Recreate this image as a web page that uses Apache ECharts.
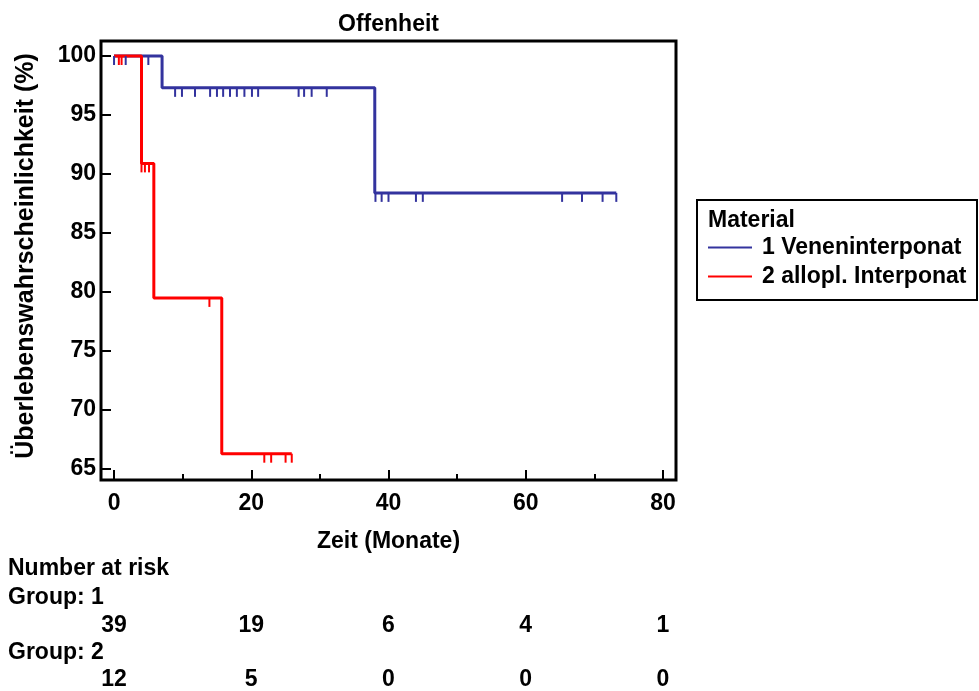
<!DOCTYPE html>
<html><head><meta charset="utf-8">
<script src="https://cdn.jsdelivr.net/npm/echarts@6/dist/echarts.min.js"></script>
<style>html,body{margin:0;padding:0;background:#fff}#c{width:979px;height:691px}</style>
</head><body><div id="c"></div>
<script>
const FONT = 'Arial, "Liberation Sans", sans-serif';
const xTicks = [0, 20, 40, 60, 80];
const xMinorTicks = [10, 30, 50, 70];
const yTicks = [65, 70, 75, 80, 85, 90, 95, 100];
const group1Name = '1 Veneninterponat';
const group2Name = '2 allopl. Interponat';
const group1Times = [0, 7, 38, 73.2];
const group1Surv = [100, 97.3, 88.4, 88.4];
const group2Times = [0, 4, 5.8, 15.7, 25.9];
const group2Surv = [100, 90.9, 79.5, 66.3, 66.3];
const group1Censor = [0, 1.7, 5, 8.9, 9.9, 11.8, 14, 15, 15.9, 16.9, 17.9, 19, 20.1, 21, 26.9, 27.7, 28.8, 31, 38.1, 39, 40, 44, 45, 65.3, 68.2, 71.2, 73.2];
const group2Censor = [0.7, 1.1, 4, 4.5, 5.1, 13.9, 21.9, 22.9, 25, 25.9];
const riskTimes = [0, 20, 40, 60, 80];
const risk1 = [39, 19, 6, 4, 1];
const risk2 = [12, 5, 0, 0, 0];

const BLUE = '#33339E', RED = '#FF0000';
const XMIN = -1.9, XMAX = 81.9, YMIN = 64.07, YMAX = 101.27;
const GRID = {left: 101, top: 41, width: 575, height: 439};
const FS = 23;

function survAt(times, surv, t) {
  let v = surv[0];
  for (let i = 0; i < times.length; i++) if (times[i] <= t) v = surv[i];
  return v;
}
function censorSeries(name, times, surv, cens, color) {
  return {
    type: 'custom', name: name + ' censored', xAxisIndex: 0, yAxisIndex: 0, z: 5,
    data: cens.map(t => [t, survAt(times, surv, t)]),
    renderItem: (params, api) => {
      const p = api.coord([api.value(0), api.value(1)]);
      return {type: 'line', shape: {x1: p[0], y1: p[1], x2: p[0], y2: p[1] + 9},
        style: {stroke: color, lineWidth: 2}};
    }
  };
}
const txt = {fontFamily: FONT, fontWeight: 'bold', fontSize: FS, color: '#000'};
const font = 'bold ' + FS + 'px ' + FONT;

const chart = echarts.init(document.getElementById('c'), null, {renderer: 'canvas'});
const option = {
  animation: false,
  backgroundColor: '#fff',
  grid: [
    {...GRID, show: true, borderColor: '#000', borderWidth: 3, backgroundColor: 'transparent', containLabel: false},
    {...GRID, show: false, containLabel: false}
  ],
  xAxis: [
    {type: 'value', gridIndex: 0, min: XMIN, max: XMAX,
      axisLine: {show: false, onZero: false}, splitLine: {show: false},
      axisTick: {show: true, inside: true, length: 10, customValues: xTicks, lineStyle: {color: '#000', width: 2}},
      axisLabel: {customValues: xTicks, margin: 12, ...txt},
      name: 'Zeit (Monate)', nameLocation: 'middle', nameGap: 50, nameTextStyle: {...txt}},
    {type: 'value', gridIndex: 1, min: XMIN, max: XMAX,
      axisLine: {show: false, onZero: false}, splitLine: {show: false},
      axisTick: {show: true, inside: true, length: 6, customValues: xMinorTicks, lineStyle: {color: '#000', width: 2}},
      axisLabel: {show: false}}
  ],
  yAxis: [
    {type: 'value', gridIndex: 0, min: YMIN, max: YMAX,
      axisLine: {show: false, onZero: false}, splitLine: {show: false},
      axisTick: {show: true, inside: true, length: 10, customValues: yTicks, lineStyle: {color: '#000', width: 2}},
      axisLabel: {customValues: yTicks, margin: 5, ...txt}},
    {type: 'value', gridIndex: 1, min: YMIN, max: YMAX, show: false, axisLine: {onZero: false}}
  ],
  legend: {
    data: [group1Name, group2Name], orient: 'vertical', left: 708, top: 236, padding: 0,
    icon: 'rect', itemWidth: 44, itemHeight: 2, itemGap: 6,
    textStyle: {...txt, padding: [0, 0, 0, 5]}, selectedMode: false
  },
  series: [
    {type: 'line', name: group1Name, step: 'end', symbol: 'none', color: BLUE, z: 3,
      lineStyle: {width: 3, color: BLUE},
      data: group1Times.map((t, i) => [t, group1Surv[i]])},
    censorSeries(group1Name, group1Times, group1Surv, group1Censor, BLUE),
    {type: 'line', name: group2Name, step: 'end', symbol: 'none', color: RED, z: 4,
      lineStyle: {width: 3, color: RED},
      data: group2Times.map((t, i) => [t, group2Surv[i]])},
    censorSeries(group2Name, group2Times, group2Surv, group2Censor, RED)
  ]
};
chart.setOption(option);

const g = [];
g.push({type: 'text', x: GRID.left + GRID.width / 2, y: 25, style: {text: 'Offenheit', font: font, fill: '#000', align: 'center', verticalAlign: 'middle'}});
g.push({type: 'rect', shape: {x: 697, y: 200, width: 280, height: 100}, style: {fill: 'transparent', stroke: '#000', lineWidth: 2}});
g.push({type: 'text', x: 708, y: 221, style: {text: 'Material', font: font, fill: '#000', verticalAlign: 'middle'}});
g.push({type: 'text', x: 26, y: 256, rotation: Math.PI / 2,
  style: {text: 'Überlebenswahrscheinlichkeit (%)', font: 'bold 25px ' + FONT, fill: '#000', align: 'center', verticalAlign: 'middle'}});
g.push({type: 'text', x: 8, y: 569, style: {text: 'Number at risk', font: font, fill: '#000', verticalAlign: 'middle'}});
g.push({type: 'text', x: 8, y: 598, style: {text: 'Group: 1', font: font, fill: '#000', verticalAlign: 'middle'}});
g.push({type: 'text', x: 8, y: 653, style: {text: 'Group: 2', font: font, fill: '#000', verticalAlign: 'middle'}});
riskTimes.forEach((t, i) => {
  const px = chart.convertToPixel({xAxisIndex: 0}, t);
  g.push({type: 'text', x: px, y: 626, style: {text: String(risk1[i]), font: font, fill: '#000', align: 'center', verticalAlign: 'middle'}});
  g.push({type: 'text', x: px, y: 680, style: {text: String(risk2[i]), font: font, fill: '#000', align: 'center', verticalAlign: 'middle'}});
});
chart.setOption({graphic: g});
</script></body></html>
